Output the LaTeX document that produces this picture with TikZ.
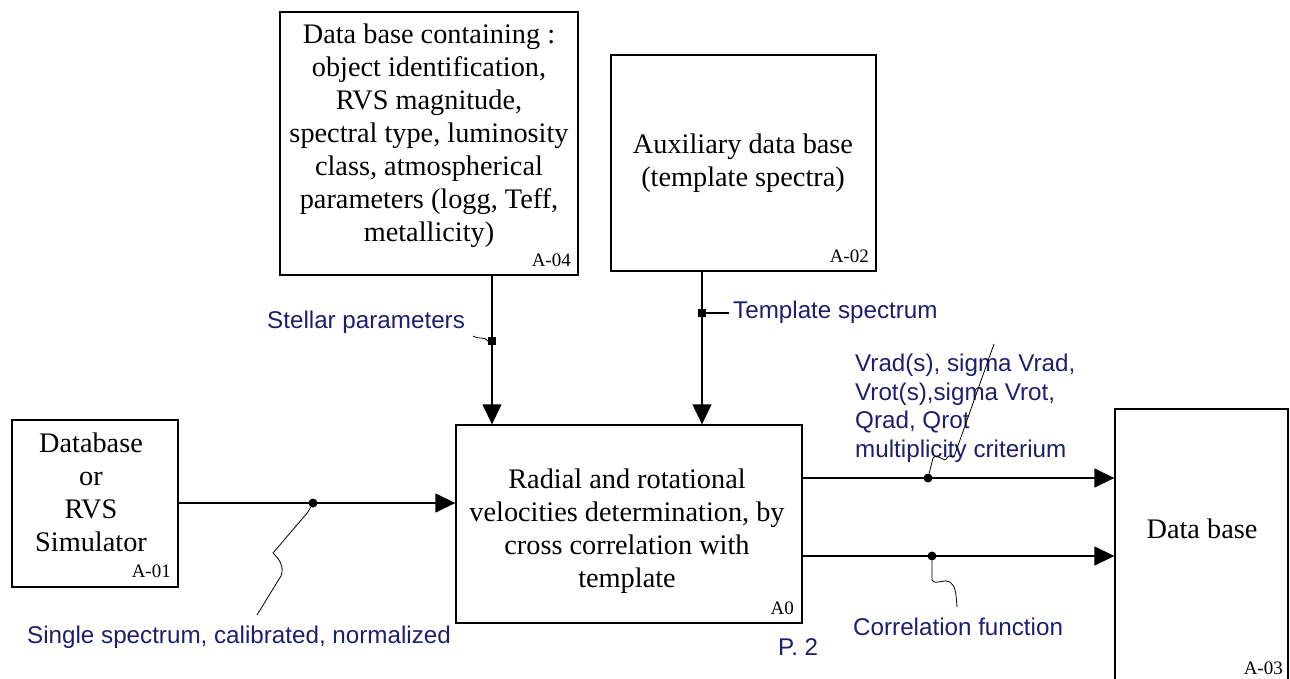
\documentclass[tikz,border=0pt]{standalone}
\usepackage{fontspec}
\setmainfont{Liberation Serif}
\newfontfamily\lsans{Liberation Sans}
\usetikzlibrary{arrows.meta}
\definecolor{lab}{RGB}{30,30,110}
\begin{document}
\begin{tikzpicture}[x=1pt,y=-1pt,
  box/.style={draw, line width=1.3pt, inner sep=0pt},
  btxt/.style={font=\fontsize{28.3}{33}\selectfont, align=center, inner sep=0pt, anchor=north},
  idl/.style={font=\fontsize{19}{22}\selectfont, inner sep=0pt, anchor=base east},
  lbl/.style={font=\lsans\fontsize{24.2}{28.5}\selectfont, text=lab, inner sep=0pt, anchor=base west},
  arr/.style={line width=1.3pt, -{Triangle[length=20pt,width=19pt]}},
  conn/.style={line width=1.3pt},
  squig/.style={line width=0.8pt},
  rdot/.style={circle, fill=black, inner sep=0pt, minimum size=9pt},
  sdot/.style={rectangle, fill=black, inner sep=0pt, minimum size=8pt}]
\path[use as bounding box] (0,0) rectangle (1290,679);
\clip (0,0) rectangle (1290,679);
% boxes
\node[box, minimum width=166pt, minimum height=167pt] (a01) at (95,503.5) {};
\node[box, minimum width=298pt, minimum height=263pt] (a04) at (429,143.5) {};
\node[box, minimum width=265pt, minimum height=216pt] (a02) at (743.5,163) {};
\node[box, minimum width=346pt, minimum height=198pt] (a0) at (629,524) {};
\node[box, minimum width=173pt, minimum height=291pt] (a03) at (1201.5,554.5) {};
% box texts
\node[btxt] (t01) at (91,433) {Database\\or\\RVS\\Simulator};
\node[btxt] (t04) at (429,24) {Data base containing :\\object identification,\\RVS magnitude,\\spectral type, luminosity\\class,  atmospherical\\parameters (logg, Teff,\\metallicity)};
\node[btxt] (t02) at (743,134) {Auxiliary data base\\(template spectra)};
\node[btxt] (t0) at (627,469) {Radial and rotational\\velocities determination, by\\cross correlation with\\template};
\node[btxt, anchor=base] (t03) at (1202,538) {Data base};
% ids
\node[idl] (i01) at (171,577) {A-01};
\node[idl] (i04) at (571,266) {A-04};
\node[idl] (i02) at (869,262) {A-02};
\node[idl] (i0) at (794,614) {A0};
\node[idl] (i03) at (1283,674) {A-03};
% junction dots
\node[rdot] (din) at (313,503) {};
\node[sdot] (dst) at (492,341) {};
\node[sdot] (dtp) at (702,313) {};
\node[rdot] (do1) at (928,478) {};
\node[rdot] (do2) at (932,556) {};
% connectors
\draw[arr] (a01.east |- din) -- (a0.west |- din);
\draw[arr] (a04.south -| dst) -- (a0.north -| dst);
\draw[arr] (a02.south -| dtp) -- (a0.north -| dtp);
\draw[arr] (a0.east |- do1) -- (a03.west |- do1);
\draw[arr] (a0.east |- do2) -- (a03.west |- do2);
% labels
\node[lbl] (lin) at (27,643) {Single spectrum, calibrated, normalized};
\node[lbl] (lst) at (267,328) {Stellar parameters};
\node[lbl] (ltp) at (733,318) {Template spectrum};
\node[lbl, anchor=north west, align=left] (lo1) at (855,354) {Vrad(s), sigma Vrad,\\Vrot(s),sigma Vrot,\\Qrad, Qrot\\multiplicity criterium};
\node[lbl] (lo2) at (853,635) {Correlation function};
\node[lbl] (p2) at (778,655) {P. 2};
% squiggles
\coordinate (ein) at (257,615);
\draw[squig] (din) -- (308,512) -- (273,553) .. controls (278,558) and (285,566) .. (281,576) -- (ein);
\draw[squig] (dst.west) .. controls (485,336) and (480,340) .. (473,336);
\draw[conn] (dtp.east) -- ([xshift=-4pt]ltp.west |- dtp);
\coordinate (eo1) at (994,344);
\draw[squig] (do1) -- (933,458) .. controls (938,452) and (944,464) .. (947,458) .. controls (950,452) and (953,462) .. (955,454) -- (eo1);
\coordinate (eo2) at (957,607);
\draw[squig] (do2) -- (932,580) .. controls (936,586) and (944,578) .. (950,582) .. controls (956,586) and (956,595) .. (eo2);
\end{tikzpicture}
\end{document}
